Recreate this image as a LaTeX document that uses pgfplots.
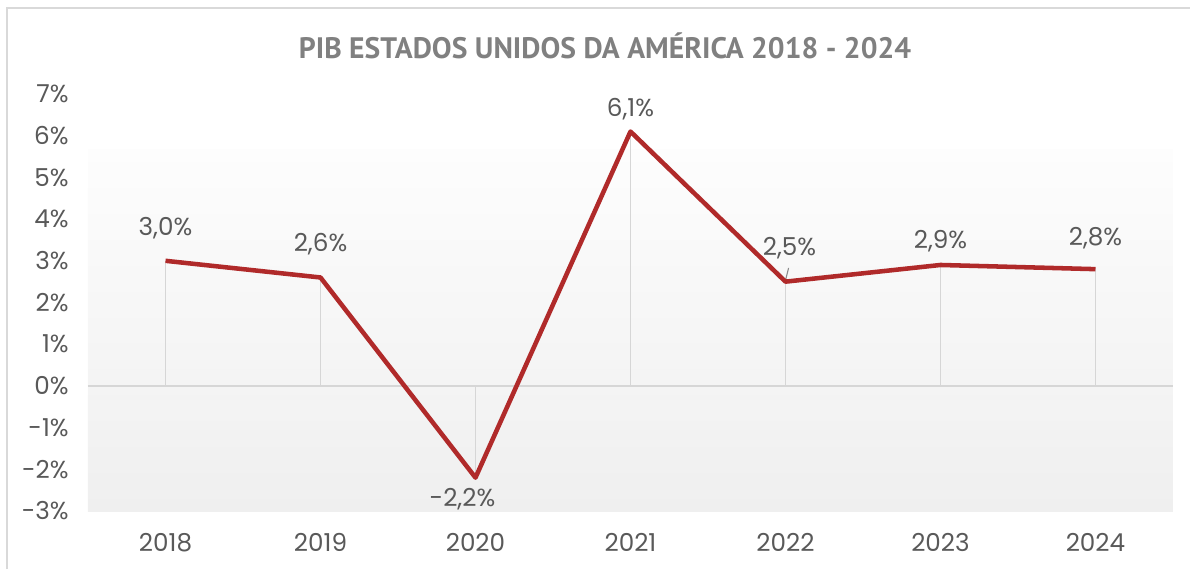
\documentclass[border=0pt]{standalone}
\usepackage{fontspec}
\setmainfont{Poppins}
\newfontfamily\titlefont{PT Sans}
\usepackage{pgfplots}
\usepackage{pgfplotstable}
\pgfplotsset{compat=1.18}
\definecolor{labelcol}{HTML}{595959}
\definecolor{titlecol}{HTML}{808080}
\definecolor{linecol}{HTML}{B02A2A}
\definecolor{dropcol}{HTML}{D6D6D6}
\definecolor{bordercol}{HTML}{D9D9D9}
\definecolor{bgtop}{HTML}{FDFDFD}
\definecolor{bgbot}{HTML}{EFEFEF}
\pgfplotstableread{
x y dx dy lab
0 3.0 0 32.5 3,0
1 2.6 0 33 2,6
2 -2.2 -13 -22 -2,2
3 6.1 0 22 6,1
4 2.5 4 33 2,5
5 2.9 0 24 2,9
6 2.8 0 31 2,8
}\datatable
\begin{document}
\begin{tikzpicture}
\path[use as bounding box] (0pt,0pt) rectangle (892.5pt,426.75pt);
\draw[bordercol, line width=1.5pt] (5.25pt,0pt) -- (5.25pt,420.75pt) -- (892.5pt,420.75pt);
\node[font=\titlefont\bfseries\fontsize{22.2}{25}\selectfont, text=titlecol] at (453.75pt,392.25pt) {PIB ESTADOS UNIDOS DA AMÉRICA 2018 - 2024};
\begin{axis}[
  at={(66pt,43.5pt)}, anchor=south west,
  scale only axis, width=813.75pt, height=312.75pt,
  xmin=-0.5, xmax=6.5, ymin=-3, ymax=7,
  xtick={0,...,6}, xticklabels={2018,2019,2020,2021,2022,2023,2024},
  ytick={-3,...,7},
  yticklabels={-3\%,-2\%,-1\%,0\%,1\%,2\%,3\%,4\%,5\%,6\%,7\%},
  axis line style={draw=none},
  tick style={draw=none},
  ticklabel style={font=\fontsize{18.5}{22}\selectfont, text=labelcol},
  yticklabel style={anchor=east, xshift=-11pt},
  xticklabel style={yshift=-13pt},
  clip=false,
]
\fill[top color=bgtop, bottom color=bgbot] (axis cs:-0.5,5.68) rectangle (axis cs:6.5,-3);
\draw[dropcol, line width=1.5pt] (axis cs:-0.5,0) -- (axis cs:6.5,0);
\addplot[ycomb, draw=dropcol, line width=1.2pt, mark=none] table[x=x,y=y]{\datatable};
\draw[labelcol!70, line width=0.8pt] (axis cs:4.02,2.83) -- (axis cs:4.0,2.53);
\addplot[color=linecol, line width=3.4pt, mark=none, line join=round,
  point meta=explicit symbolic,
  nodes near coords={\pgfplotspointmeta\%},
  visualization depends on={\thisrow{dx} \as \dx},
  visualization depends on={\thisrow{dy} \as \dy},
  every node near coord/.append style={anchor=center, xshift=\dx*0.75pt, yshift=\dy*0.75pt, font=\fontsize{18.5}{22}\selectfont, text=labelcol},
] table[x=x,y=y,meta=lab]{\datatable};
\end{axis}
\end{tikzpicture}
\end{document}
